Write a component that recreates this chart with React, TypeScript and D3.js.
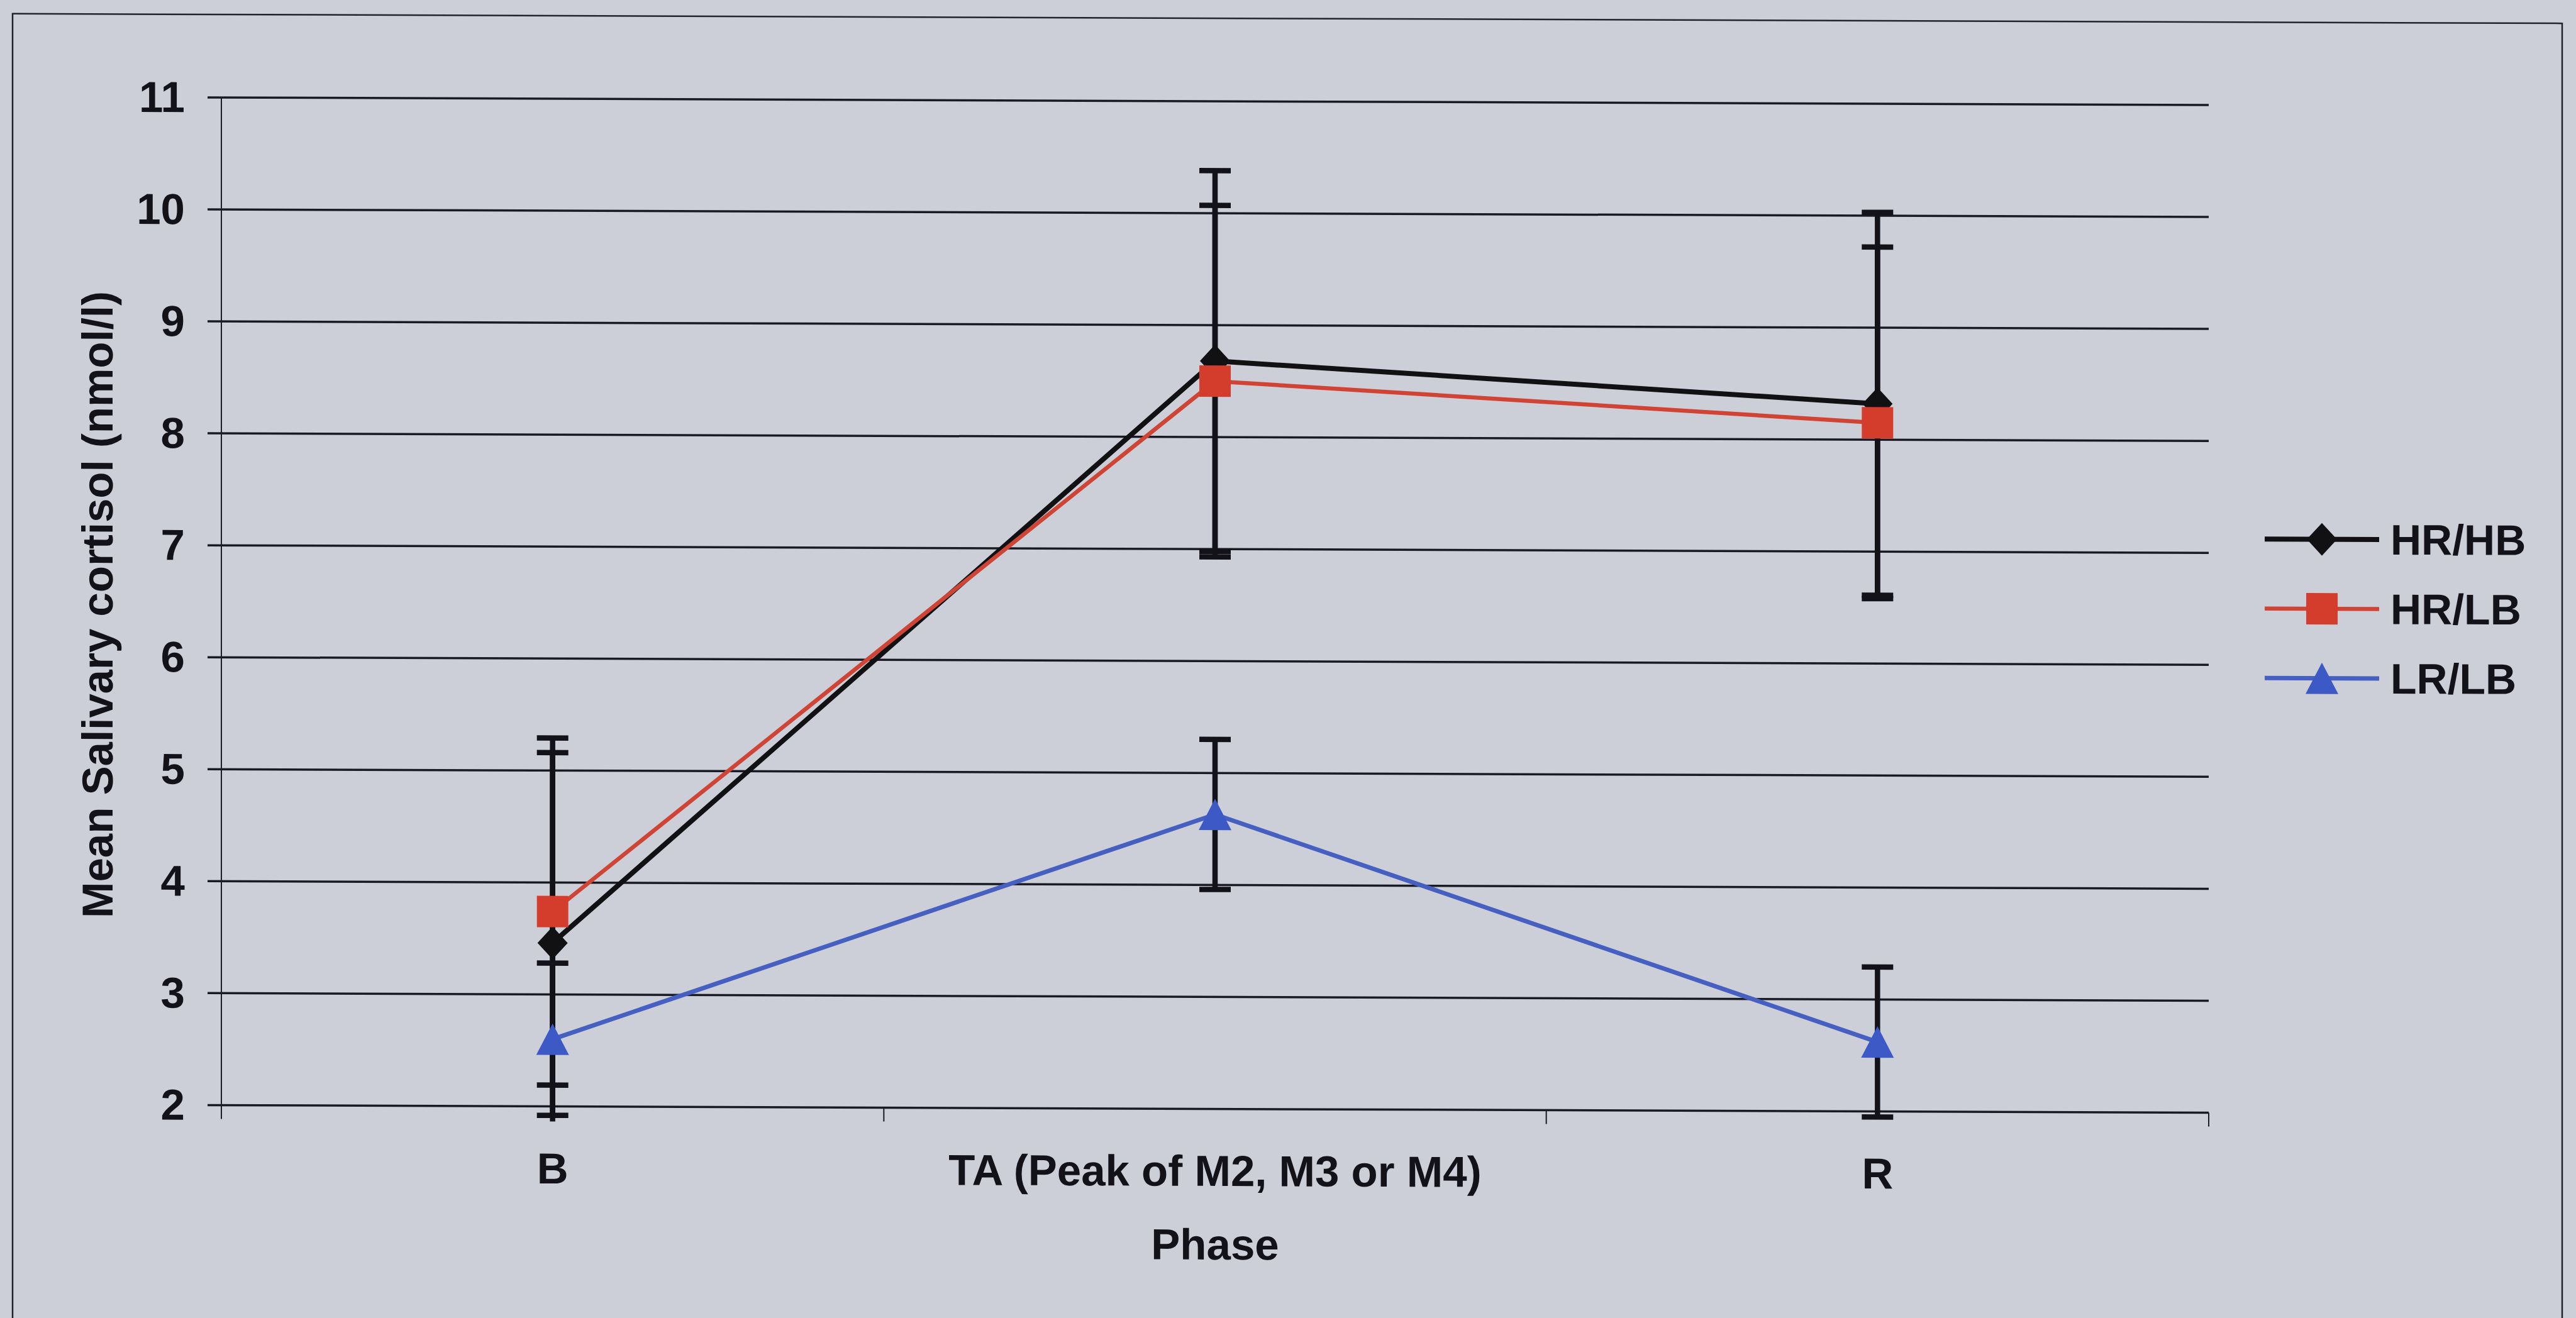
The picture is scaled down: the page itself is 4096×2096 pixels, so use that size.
import React from "react";
import * as d3 from "d3";

// Phases on the category axis
const phases = ["B", "TA (Peak of M2, M3 or M4)", "R"];
const axisTitleX = "Phase";
const axisTitleY = "Mean Salivary cortisol (nmol/l)";

// Group names (legend order)
const seriesNames = ["HR/HB", "HR/LB", "LR/LB"];

// Mean salivary cortisol per phase, with error half-widths
const hrhbMean = [3.46, 8.68, 8.32];
const hrhbErr = [1.7, 1.7, 1.71];
const hrlbMean = [3.74, 8.5, 8.15];
const hrlbErr = [1.55, 1.57, 1.57];
const lrlbMean = [2.6, 4.63, 2.62];
const lrlbErr = [0.68, 0.67, 0.67];

// Value axis
const yDomain = [2, 11];
const yTicks = [2, 3, 4, 5, 6, 7, 8, 9, 10, 11];

const W = 4096;
const H = 2096;
const BG = "#cdcfd8";
const INK = "#121218";
const FONT = "'Liberation Sans', Arial, Helvetica, sans-serif";
const FS = 69;

const plot = { left: 352, right: 3512, top: 155, bottom: 1757.5 };
const tiltB = 0.0038;

type MarkerKind = "diamond" | "square" | "triangle";

const styles: { color: string; lineColor: string; width: number; marker: MarkerKind }[] = [
  { color: "#111114", lineColor: "#111114", width: 8, marker: "diamond" },
  { color: "#d43c2b", lineColor: "#cf4434", width: 6.5, marker: "square" },
  { color: "#3d59c6", lineColor: "#4660c2", width: 7, marker: "triangle" },
];

function markerPath(kind: MarkerKind, cx: number, cy: number): string {
  const p = d3.path();
  if (kind === "diamond") {
    const rx = 24;
    const ry = 26;
    p.moveTo(cx, cy - ry);
    p.lineTo(cx + rx, cy);
    p.lineTo(cx, cy + ry);
    p.lineTo(cx - rx, cy);
    p.closePath();
  } else if (kind === "square") {
    const r = 25;
    p.rect(cx - r, cy - r, 2 * r, 2 * r);
  } else {
    const hw = 26;
    const hh = 25;
    p.moveTo(cx, cy - hh);
    p.lineTo(cx + hw, cy + hh);
    p.lineTo(cx - hw, cy + hh);
    p.closePath();
  }
  return p.toString();
}

export default function App() {
  const x = d3
    .scalePoint<string>()
    .domain(phases)
    .range([plot.left, plot.right])
    .padding(0.5);
  const y = d3.scaleLinear().domain(yDomain).range([plot.bottom, plot.top]);

  const series = [
    { name: seriesNames[0], mean: hrhbMean, err: hrhbErr, ...styles[0] },
    { name: seriesNames[1], mean: hrlbMean, err: hrlbErr, ...styles[1] },
    { name: seriesNames[2], mean: lrlbMean, err: lrlbErr, ...styles[2] },
  ];

  const line = d3
    .line<number>()
    .x((_, i) => x(phases[i]) as number)
    .y((d) => y(d));

  // boundaries between categories for the tick marks on the category axis
  const step = x.step();
  const catTicks = d3.range(phases.length + 1).map((i) => plot.left + i * step);

  const clipBottom = y(yDomain[0]) + 24;
  const capHalf = 25;

  const legendLeft = 3601;
  const legendRight = 3783;
  const legendTop = 845;
  const legendGap = 110.5;

  const tilt = `matrix(1, ${tiltB}, 0, 1, 0, ${-tiltB * plot.left})`;

  return (
    <svg
      width={W}
      height={H}
      viewBox={`0 0 ${W} ${H}`}
      style={{ position: "fixed", left: 0, top: 0, display: "block" }}
    >
      <defs>
        <clipPath id="errClip">
          <rect
            x={plot.left - 200}
            y={plot.top - 100}
            width={plot.right - plot.left + 400}
            height={clipBottom - plot.top + 100}
          />
        </clipPath>
      </defs>
      <rect x={0} y={0} width={W} height={H} fill={BG} />
      <g transform={tilt}>
        {/* chart frame */}
        <rect
          x={20}
          y={23}
          width={4054}
          height={2200}
          fill="none"
          stroke="#23232e"
          strokeWidth={2.5}
        />

        {/* horizontal gridlines with outward ticks */}
        {yTicks.map((t) => (
          <line
            key={`g${t}`}
            x1={plot.left - 22}
            x2={plot.right}
            y1={y(t)}
            y2={y(t)}
            stroke="#1a1a24"
            strokeWidth={3.5}
          />
        ))}
        {/* value axis */}
        <line
          x1={plot.left}
          x2={plot.left}
          y1={plot.top}
          y2={plot.bottom}
          stroke="#1c1c26"
          strokeWidth={2}
        />
        {/* category axis ticks */}
        {catTicks.map((cx, i) => (
          <line
            key={`c${i}`}
            x1={cx}
            x2={cx}
            y1={plot.bottom}
            y2={plot.bottom + 22}
            stroke="#1c1c26"
            strokeWidth={2}
          />
        ))}

        {/* value labels */}
        {yTicks.map((t) => (
          <text
            key={`yl${t}`}
            x={294}
            y={y(t)}
            dy="0.34em"
            textAnchor="end"
            fontFamily={FONT}
            fontWeight="bold"
            fontSize={FS}
            fill={INK}
          >
            {t}
          </text>
        ))}

        {/* category labels */}
        {phases.map((p) => (
          <text
            key={`xl${p}`}
            x={x(p) as number}
            y={1880}
            textAnchor="middle"
            fontFamily={FONT}
            fontWeight="bold"
            fontSize={FS}
            fill={INK}
          >
            {p}
          </text>
        ))}

        {/* axis titles */}
        <text
          x={(plot.left + plot.right) / 2}
          y={1997}
          textAnchor="middle"
          fontFamily={FONT}
          fontWeight="bold"
          fontSize={FS}
          fill={INK}
        >
          {axisTitleX}
        </text>
        <text
          transform={`translate(179, ${(plot.top + plot.bottom) / 2 + 6}) rotate(-90)`}
          textAnchor="middle"
          fontFamily={FONT}
          fontWeight="bold"
          fontSize={FS}
          fill={INK}
        >
          {axisTitleY}
        </text>

        {/* error bars */}
        <g clipPath="url(#errClip)" stroke={INK} strokeWidth={8.5} fill="none">
          {series.map((s) =>
            s.mean.map((m, i) => {
              const cx = x(phases[i]) as number;
              const yHi = y(m + s.err[i]);
              const yLo = y(m - s.err[i]);
              return (
                <g key={`e${s.name}${i}`}>
                  <line x1={cx} x2={cx} y1={yHi} y2={yLo} />
                  <line x1={cx - capHalf} x2={cx + capHalf} y1={yHi} y2={yHi} />
                  <line x1={cx - capHalf} x2={cx + capHalf} y1={yLo} y2={yLo} />
                </g>
              );
            })
          )}
        </g>

        {/* series lines and markers */}
        {series.map((s) => (
          <g key={`s${s.name}`}>
            <path
              d={line(s.mean) as string}
              fill="none"
              stroke={s.lineColor}
              strokeWidth={s.width}
              strokeLinejoin="round"
            />
            {s.mean.map((m, i) => (
              <path
                key={`m${i}`}
                d={markerPath(s.marker, x(phases[i]) as number, y(m))}
                fill={s.color}
              />
            ))}
          </g>
        ))}

        {/* legend */}
        {series.map((s, i) => {
          const ly = legendTop + i * legendGap;
          return (
            <g key={`lg${s.name}`}>
              <line
                x1={legendLeft}
                x2={legendRight}
                y1={ly}
                y2={ly}
                stroke={s.lineColor}
                strokeWidth={s.width}
              />
              <path d={markerPath(s.marker, (legendLeft + legendRight) / 2, ly)} fill={s.color} />
              <text
                x={3801}
                y={ly}
                dy="0.35em"
                fontFamily={FONT}
                fontWeight="bold"
                fontSize={FS - 1}
                fill={INK}
              >
                {s.name}
              </text>
            </g>
          );
        })}
      </g>
    </svg>
  );
}
